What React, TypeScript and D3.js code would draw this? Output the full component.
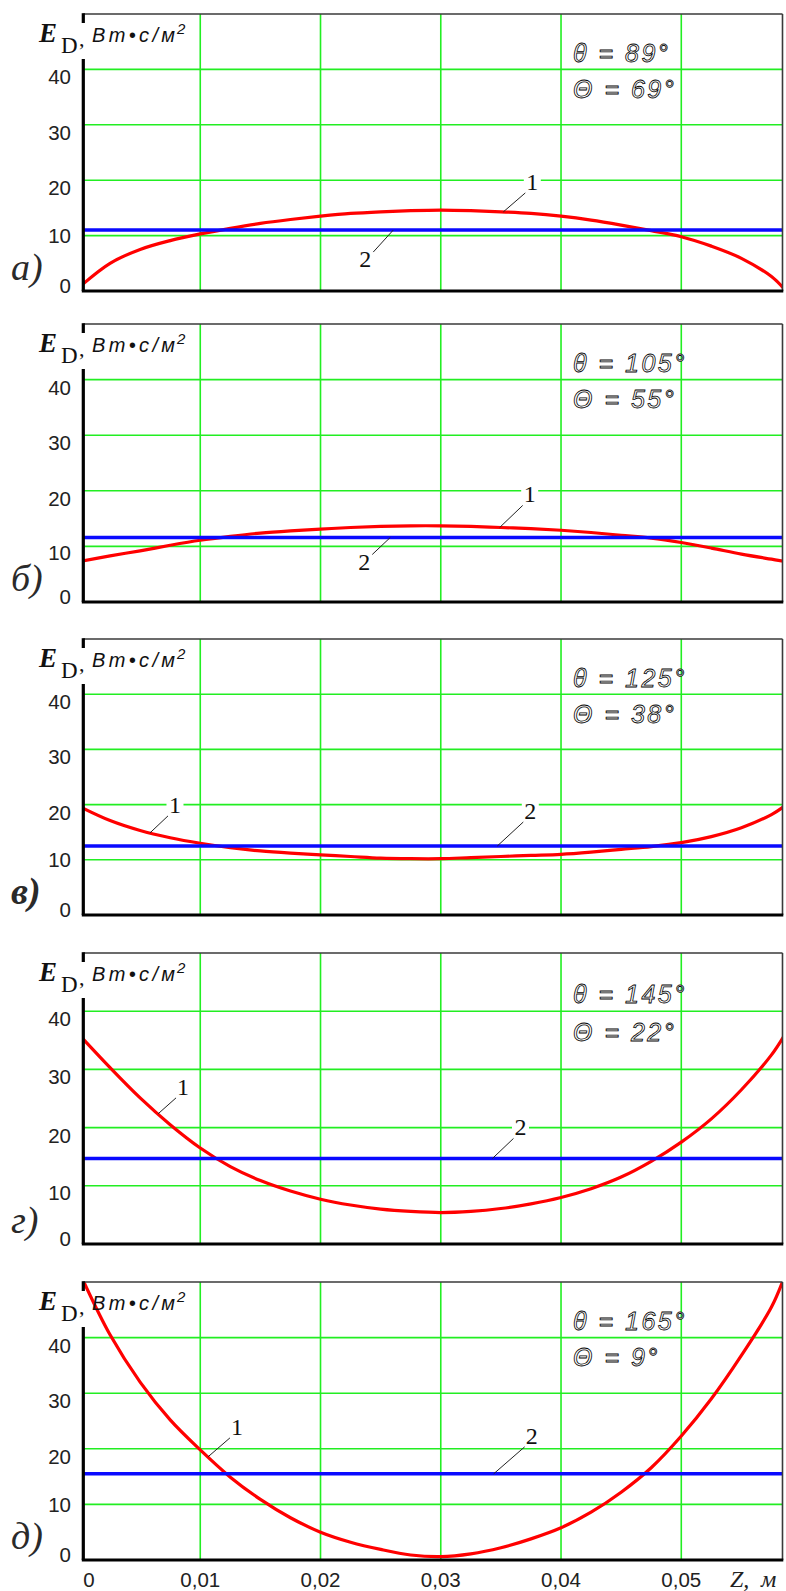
import React from 'react';
import * as d3 from 'd3';

// Longitudinal coordinate z, m (common sampling for all curves)
const zSamples = [
  0, 0.0025, 0.005, 0.0075, 0.01, 0.0125, 0.015, 0.0175, 0.02, 0.0225, 0.025, 0.0275,
  0.03, 0.0325, 0.035, 0.0375, 0.04, 0.0425, 0.045, 0.0475, 0.05, 0.0525, 0.055, 0.0575, 0.0585,
];

// Curve 1: dose distribution E_D along z, W·s/m², one array per panel
const curveA = [0.8, 5.0, 7.5, 9.1, 10.3, 11.3, 12.2, 12.9, 13.5, 14.0, 14.3, 14.5, 14.6, 14.5, 14.3, 14.0, 13.5, 12.8, 11.9, 10.9, 9.8, 8.1, 5.9, 2.6, 0.5];
const curveB = [7.3, 8.3, 9.2, 10.2, 11.1, 11.8, 12.4, 12.8, 13.1, 13.4, 13.6, 13.7, 13.7, 13.6, 13.4, 13.2, 12.9, 12.5, 12.0, 11.5, 10.7, 9.7, 8.6, 7.7, 7.35];
const curveV = [19.6, 17.1, 15.3, 14.0, 13.0, 12.2, 11.6, 11.2, 10.9, 10.6, 10.3, 10.2, 10.2, 10.4, 10.6, 10.8, 11.0, 11.4, 11.9, 12.4, 13.1, 14.2, 15.8, 18.2, 19.6];
const curveG = [35.8, 30.3, 25.1, 20.5, 16.5, 13.3, 10.9, 9.1, 7.7, 6.7, 6.0, 5.6, 5.4, 5.6, 6.1, 6.9, 8.0, 9.5, 11.5, 14.2, 17.5, 21.5, 26.5, 32.5, 35.6];
const curveD = [51.5, 40.5, 32.0, 25.2, 19.8, 14.9, 10.9, 7.6, 5.0, 3.2, 1.9, 0.9, 0.6, 1.1, 2.2, 3.8, 5.8, 8.6, 12.2, 16.6, 22.3, 29.0, 36.8, 45.5, 50.5];

// Curve 2: mean level, W·s/m²
const meanLevels = [11.0, 11.6, 12.5, 14.7, 15.5];

// Angles shown in each panel
const thetaSmall = [89, 105, 125, 145, 165];
const thetaBig = [69, 55, 38, 22, 9];
const panelLetters = ['а)', 'б)', 'в)', 'г)', 'д)'];

// Axis ticks
const yTicks = [0, 10, 20, 30, 40];
const yMax = 50;
const zMax = 0.0585;
const xTicks = [0, 0.01, 0.02, 0.03, 0.04, 0.05];
const xTickLabels = ['0', '0,01', '0,02', '0,03', '0,04', '0,05'];

// Curve-number callouts: which curve, z of the leader tip, leader vector in px
const callouts = [
  [{ curve: 1, z: 0.0352, dx: 22, dy: -19 }, { curve: 2, z: 0.02605, dx: -20, dy: 22 }],
  [{ curve: 1, z: 0.0349, dx: 23, dy: -22 }, { curve: 2, z: 0.0258, dx: -18, dy: 17 }],
  [{ curve: 1, z: 0.00582, dx: 18, dy: -17 }, { curve: 2, z: 0.0347, dx: 26, dy: -24 }],
  [{ curve: 1, z: 0.00649, dx: 18, dy: -16 }, { curve: 2, z: 0.0343, dx: 21, dy: -20 }],
  [{ curve: 1, z: 0.01064, dx: 22, dy: -19 }, { curve: 2, z: 0.0344, dx: 31, dy: -27 }],
];

const curves = [curveA, curveB, curveV, curveG, curveD];

// Layout of the stacked panels
const W = 786;
const H = 1591;
const panelFrames = [
  { top: 14, bottom: 291, tenCentered: true, boldLetter: false },
  { top: 324, bottom: 602, tenCentered: false, boldLetter: false },
  { top: 639, bottom: 915, tenCentered: true, boldLetter: true },
  { top: 953, bottom: 1244, tenCentered: false, boldLetter: false },
  { top: 1282, bottom: 1560, tenCentered: true, boldLetter: false },
];
const AXIS_X = 83.3;
const RIGHT_X = 782.5;

const GREEN = '#22ee22';
const RED = '#ff0000';
const BLUE = '#0a0aff';
const SANS = '"Liberation Sans", Arial, sans-serif';
const SERIF = '"Liberation Serif", "Times New Roman", serif';

const x = d3.scaleLinear().domain([0, zMax]).range([80, 783.5]);

function valueAt(series: number[], z: number): number {
  const i = Math.max(1, Math.min(zSamples.length - 1, d3.bisectLeft(zSamples, z)));
  const z0 = zSamples[i - 1];
  const z1 = zSamples[i];
  const t = (z - z0) / (z1 - z0);
  return series[i - 1] + t * (series[i] - series[i - 1]);
}

function Panel({ idx }: { idx: number }) {
  const { top, bottom, tenCentered, boldLetter } = panelFrames[idx];
  const y = d3.scaleLinear().domain([0, yMax]).range([bottom, top]);
  const series = curves[idx];
  const level = meanLevels[idx];
  const pts = zSamples.map((z, i) => [z, series[i]] as [number, number]);
  const redPath = d3
    .line<[number, number]>()
    .x((d) => x(d[0]))
    .y((d) => y(d[1]))
    .curve(d3.curveCatmullRom.alpha(0.5))(pts) as string;
  const clipId = `plot-clip-${idx}`;
  const h = bottom - top;

  return (
    <g>
      <defs>
        <clipPath id={clipId}>
          <rect x={AXIS_X} y={top} width={RIGHT_X - AXIS_X} height={h} />
        </clipPath>
      </defs>

      {/* grid */}
      {yTicks
        .filter((t) => t > 0)
        .map((t) => (
          <line key={`gy${t}`} x1={AXIS_X} x2={RIGHT_X} y1={y(t)} y2={y(t)} stroke={GREEN} strokeWidth={1.6} />
        ))}
      {xTicks
        .filter((t) => t > 0)
        .map((t) => (
          <line key={`gx${t}`} x1={x(t)} x2={x(t)} y1={top} y2={bottom} stroke={GREEN} strokeWidth={1.6} />
        ))}

      {/* curve 1 and curve 2 */}
      <g clipPath={`url(#${clipId})`}>
        <path d={redPath} fill="none" stroke={RED} strokeWidth={3.2} strokeLinejoin="round" />
        <line x1={x(0)} x2={x(zMax)} y1={y(level)} y2={y(level)} stroke={BLUE} strokeWidth={3.4} />
      </g>

      {/* frame */}
      <line x1={AXIS_X} x2={RIGHT_X} y1={top} y2={top} stroke="#3a3a3a" strokeWidth={1.6} />
      <line x1={RIGHT_X} x2={RIGHT_X} y1={top} y2={bottom} stroke="#3a3a3a" strokeWidth={1.6} />
      <line x1={AXIS_X - 1.5} x2={RIGHT_X + 0.8} y1={bottom} y2={bottom} stroke="#000" strokeWidth={3.2} />
      <line x1={AXIS_X} x2={AXIS_X} y1={top - 0.8} y2={top + 9} stroke="#000" strokeWidth={3.2} />
      <line x1={AXIS_X} x2={AXIS_X} y1={top + 45} y2={bottom} stroke="#000" strokeWidth={3.2} />

      {/* y tick labels */}
      {yTicks.map((t) => {
        let by = y(t) + 15;
        if (t === 0) by = bottom + 1.5;
        else if (t === 10) by = y(t) + (tenCentered ? 7.5 : 14);
        return (
          <text key={`yl${t}`} x={71} y={by} textAnchor="end" fontFamily={SANS} fontSize={20.5} fill="#222">
            {t}
          </text>
        );
      })}

      {/* axis title */}
      <text x={39} y={top + 28} fontFamily={SERIF} fontStyle="italic" fontWeight="bold" fontSize={27} fill="#111">
        E
      </text>
      <text x={61} y={top + 39} fontFamily={SERIF} fontSize={23} fill="#111">
        D
      </text>
      <text x={79} y={top + 32} fontFamily={SERIF} fontSize={22} fill="#111">
        ,
      </text>
      <text x={92} y={top + 28} fontFamily={SANS} fontStyle="italic" fontSize={20} fill="#111" textLength={83} lengthAdjust="spacing">
        Вт•с/м
      </text>
      <text x={177} y={top + 20} fontFamily={SANS} fontStyle="italic" fontSize={15} fill="#111">
        2
      </text>

      {/* panel letter */}
      <text
        x={11}
        y={bottom - 11}
        fontFamily={SERIF}
        fontStyle="italic"
        fontWeight={boldLetter ? 'bold' : 'normal'}
        fontSize={38}
        fill="#2a2a2a"
      >
        {panelLetters[idx]}
      </text>

      {/* angle annotations */}
      {[`θ = ${thetaSmall[idx]}°`, `Θ = ${thetaBig[idx]}°`].map((s, k) => (
        <text
          key={`th${k}`}
          x={573}
          y={top + h * (k === 0 ? 0.173 : 0.303)}
          fontFamily={SANS}
          fontStyle="italic"
          fontSize={25}
          letterSpacing={2.5}
          fill="#fff"
          stroke="#000"
          strokeWidth={0.8}
        >
          {s}
        </text>
      ))}

      {/* curve number callouts */}
      {callouts[idx].map((c, k) => {
        const v = c.curve === 1 ? valueAt(series, c.z) : level;
        const tx = x(c.z);
        const ty = y(v);
        const ex = tx + c.dx;
        const ey = ty + c.dy;
        const up = c.dy < 0;
        const lx = ex + (up ? 7 : -8);
        const ly = ey + (up ? -3 : 15);
        return (
          <g key={`co${k}`}>
            <rect x={lx - 8.5} y={ly - 19} width={17} height={21} fill="#fff" />
            <line x1={tx} y1={ty} x2={ex} y2={ey} stroke="#222" strokeWidth={1} />
            <text x={lx} y={ly} textAnchor="middle" fontFamily={SERIF} fontSize={24} fill="#111">
              {c.curve}
            </text>
          </g>
        );
      })}
    </g>
  );
}

export default function App() {
  const last = panelFrames[panelFrames.length - 1];
  return (
    <svg
      width={W}
      height={H}
      viewBox={`0 0 ${W} ${H}`}
      style={{ position: 'absolute', left: 0, top: 0, background: '#fff' }}
    >
      <rect x={0} y={0} width={W} height={H} fill="#fff" />
      {panelFrames.map((_, i) => (
        <Panel key={i} idx={i} />
      ))}
      {/* z axis tick labels below the last panel */}
      {xTicks.map((t, i) => (
        <text
          key={`xl${i}`}
          x={t === 0 ? AXIS_X : x(t)}
          y={last.bottom + 27}
          textAnchor={t === 0 ? 'start' : 'middle'}
          fontFamily={SANS}
          fontSize={20.5}
          fill="#222"
        >
          {xTickLabels[i]}
        </text>
      ))}
      <text x={730} y={last.bottom + 27} fontFamily={SERIF} fontStyle="italic" fontSize={24} fill="#222">
        Z,
      </text>
      <text x={761} y={last.bottom + 27} fontFamily={SERIF} fontStyle="italic" fontSize={24} fill="#222">
        м
      </text>
    </svg>
  );
}
